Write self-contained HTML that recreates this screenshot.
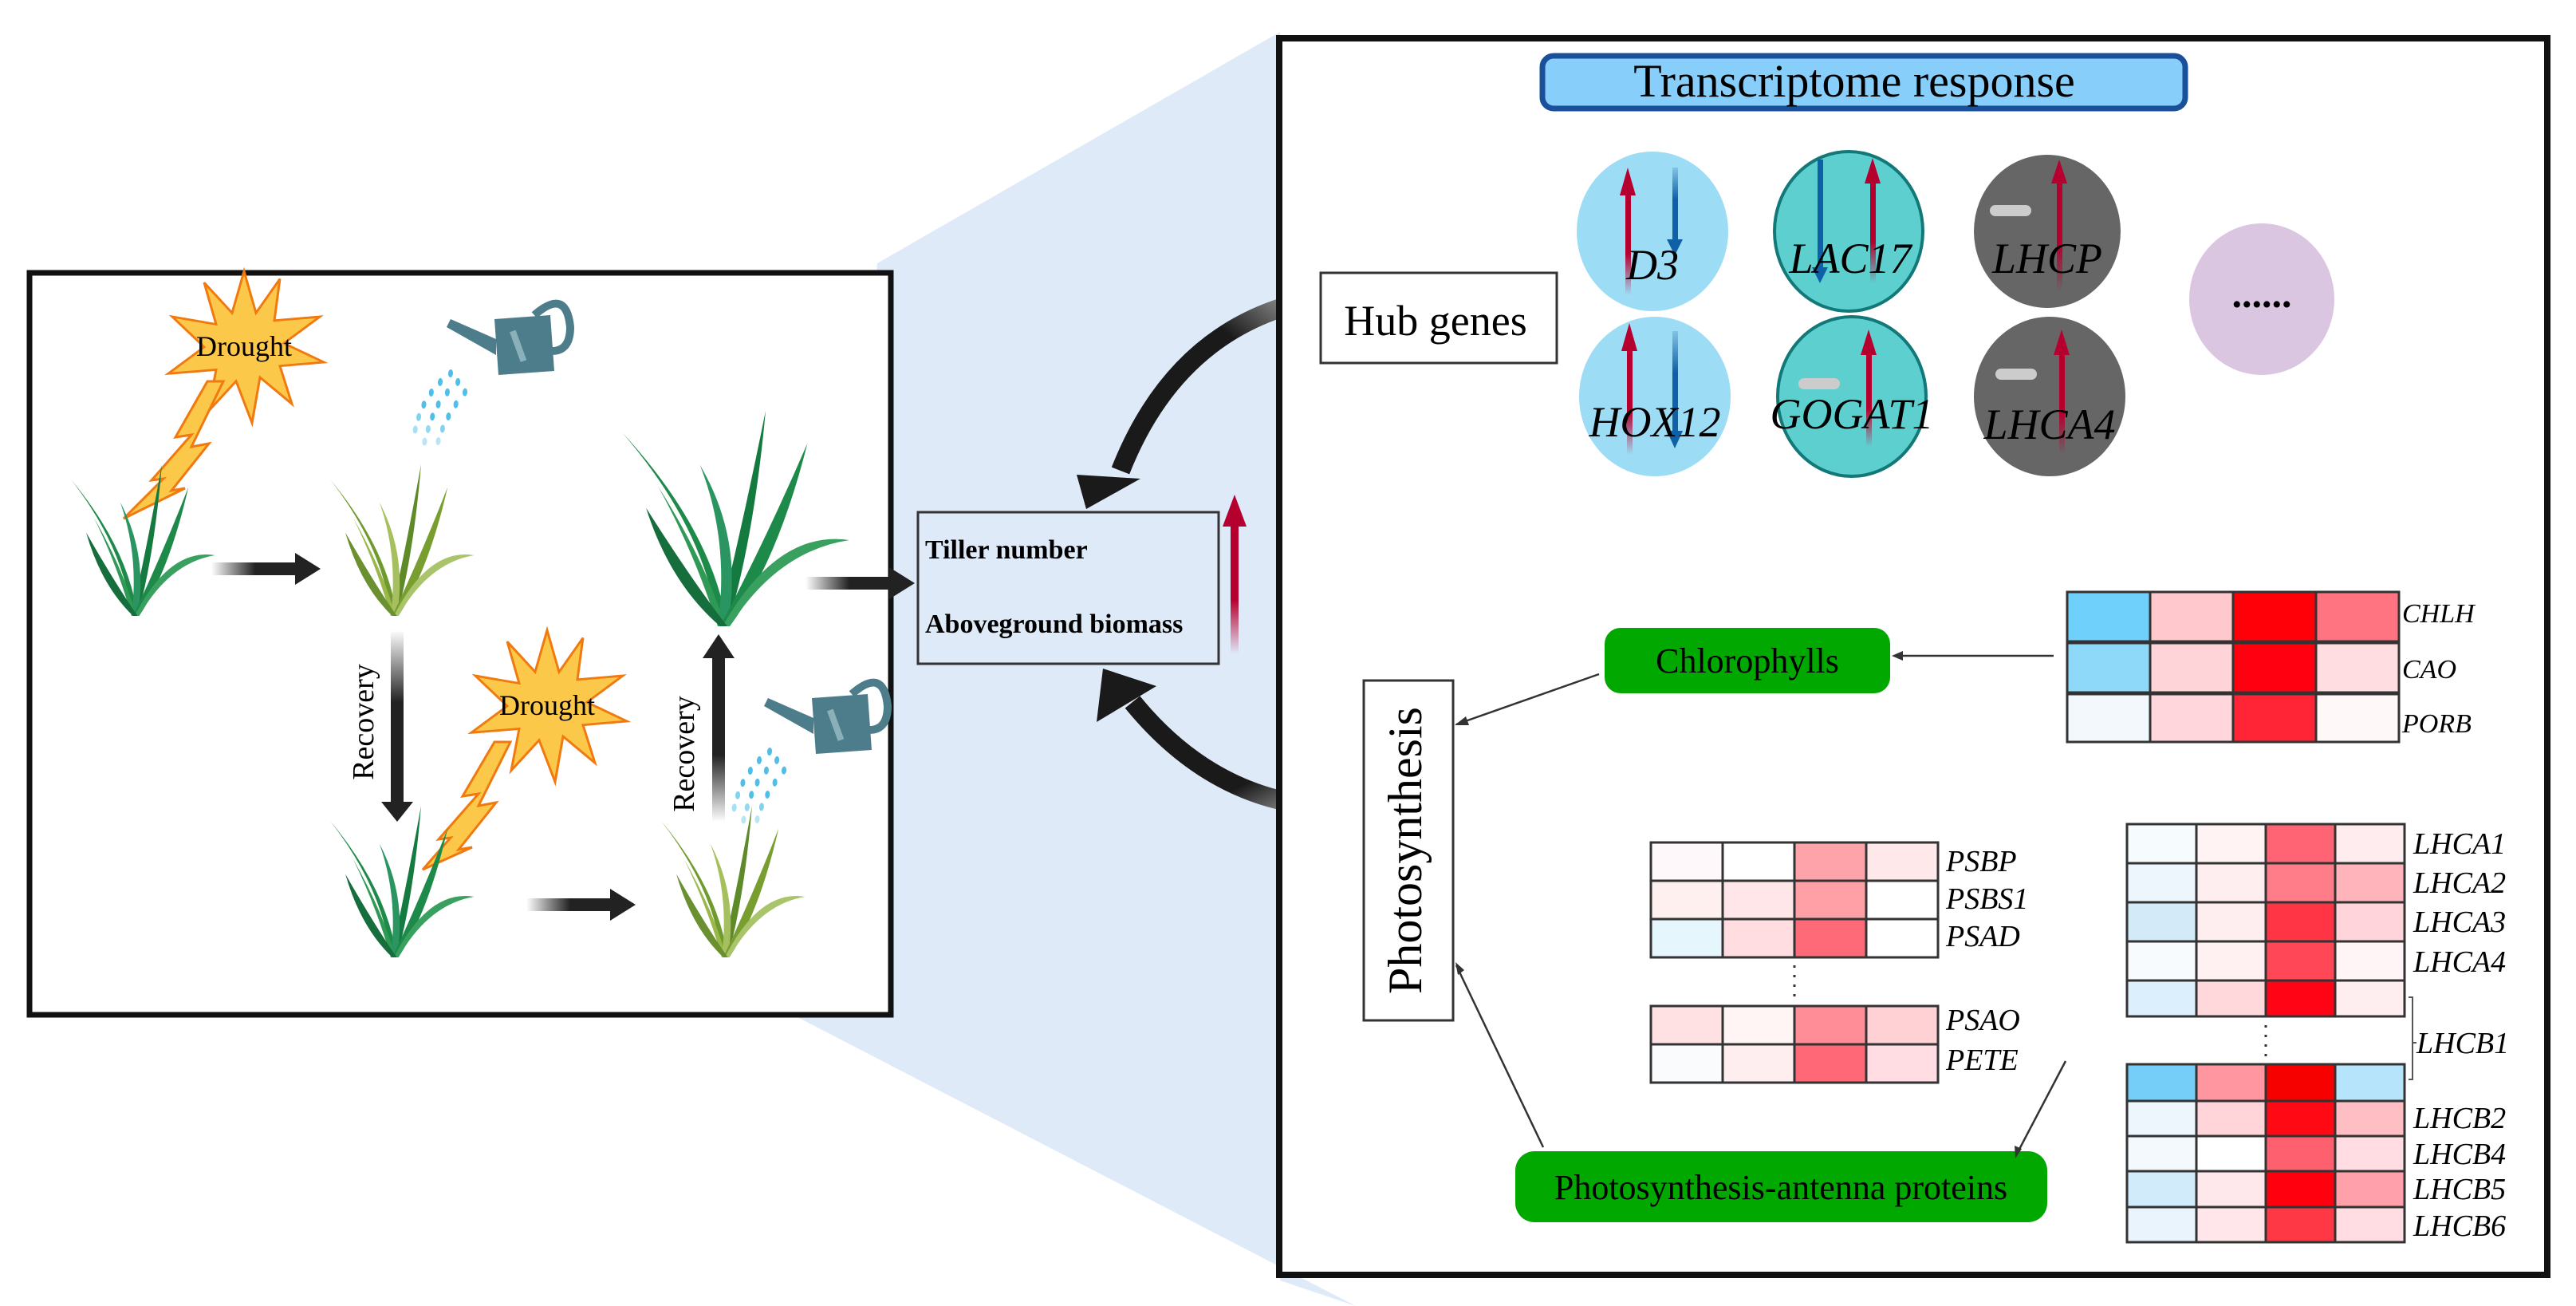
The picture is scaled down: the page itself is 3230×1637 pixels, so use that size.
<!DOCTYPE html>
<html><head><meta charset="utf-8"><style>
html,body{margin:0;padding:0;background:#fff;}
svg{display:block;}
text{font-family:"Liberation Serif",serif;}
.it{font-style:italic;}
</style></head><body>
<svg width="3230" height="1637" viewBox="0 0 3230 1637" xmlns="http://www.w3.org/2000/svg">
<defs>
<linearGradient id="gr" x1="0" y1="1" x2="0" y2="0"><stop offset="0" stop-color="#b5002f" stop-opacity="0"/><stop offset="0.4" stop-color="#b5002f"/><stop offset="1" stop-color="#b5002f"/></linearGradient>
<linearGradient id="gb" x1="0" y1="0" x2="0" y2="1"><stop offset="0" stop-color="#1060a8" stop-opacity="0.2"/><stop offset="0.4" stop-color="#1060a8"/><stop offset="1" stop-color="#1060a8"/></linearGradient>
<linearGradient id="ah" x1="0" y1="0" x2="1" y2="0"><stop offset="0" stop-color="#222" stop-opacity="0"/><stop offset="0.5" stop-color="#222"/><stop offset="1" stop-color="#222"/></linearGradient>
<linearGradient id="av" x1="0" y1="0" x2="0" y2="1"><stop offset="0" stop-color="#222" stop-opacity="0"/><stop offset="0.4" stop-color="#222"/><stop offset="1" stop-color="#222"/></linearGradient>
<linearGradient id="av2" x1="0" y1="1" x2="0" y2="0"><stop offset="0" stop-color="#222" stop-opacity="0"/><stop offset="0.4" stop-color="#222"/><stop offset="1" stop-color="#222"/></linearGradient>
<linearGradient id="bt" x1="1" y1="0" x2="0" y2="1"><stop offset="0" stop-color="#bbb"/><stop offset="0.35" stop-color="#1a1a1a"/><stop offset="1" stop-color="#1a1a1a"/></linearGradient>
<linearGradient id="bb" x1="1" y1="1" x2="0" y2="0"><stop offset="0" stop-color="#bbb"/><stop offset="0.35" stop-color="#1a1a1a"/><stop offset="1" stop-color="#1a1a1a"/></linearGradient>
<g id="plantD">
<path d="M0,0 Q-10,-90 -80,-180 Q-5,-90 8,0Z" fill="#1e8a4a"/>
<path d="M0,0 Q-20,-70 -50,-130 Q-10,-60 6,0Z" fill="#2f9a55"/>
<path d="M0,0 Q20,-90 40,-200 Q30,-80 8,0Z" fill="#157a40"/>
<path d="M0,0 Q10,-80 -15,-150 Q22,-80 8,0Z" fill="#2a9560"/>
<path d="M2,0 Q40,-80 75,-170 Q50,-60 10,0Z" fill="#1e8a4a"/>
<path d="M4,0 Q50,-90 110,-80 Q50,-70 10,0Z" fill="#3aa060"/>
<path d="M2,0 Q-40,-40 -60,-110 Q-20,-40 8,0Z" fill="#166e3c"/>
</g>
<g id="plantY">
<path d="M0,0 Q-10,-90 -80,-180 Q-5,-90 8,0Z" fill="#6f9a2e"/>
<path d="M0,0 Q-20,-70 -50,-130 Q-10,-60 6,0Z" fill="#9ab84a"/>
<path d="M0,0 Q20,-90 40,-200 Q30,-80 8,0Z" fill="#5f8a2a"/>
<path d="M0,0 Q10,-80 -15,-150 Q22,-80 8,0Z" fill="#a6c060"/>
<path d="M2,0 Q40,-80 75,-170 Q50,-60 10,0Z" fill="#789e30"/>
<path d="M4,0 Q50,-90 110,-80 Q50,-70 10,0Z" fill="#a9c46a"/>
<path d="M2,0 Q-40,-40 -60,-110 Q-20,-40 8,0Z" fill="#6a9030"/>
</g>
<g id="star">
<polygon points="0,-100 15,-45 45,-90 38,-35 95,-40 50,-5 100,20 45,25 60,75 20,40 10,100 -10,45 -45,85 -35,30 -95,35 -50,0 -90,-40 -35,-30 -50,-85 -15,-45" fill="#fcc84a" stroke="#f07a10" stroke-width="3"/>
</g>
<g id="can">
<path d="M-40,-30 L30,-35 L35,35 L-35,40Z" fill="#4d7d8a"/>
<path d="M10,-35 Q50,-70 55,-20 Q55,10 32,10" fill="none" stroke="#4d7d8a" stroke-width="10"/>
<path d="M-38,-5 L-95,-30 L-100,-20 L-38,15Z" fill="#4d7d8a"/>
<rect x="-15" y="-20" width="8" height="40" fill="#8ab0ba" transform="rotate(-20)"/>
</g>
<g id="drops" fill="#4fbfe8">
<ellipse cx="0" cy="0" rx="3" ry="5"/><ellipse cx="-12" cy="12" rx="3" ry="5"/><ellipse cx="-22" cy="26" rx="3" ry="5"/><ellipse cx="-30" cy="42" rx="3" ry="5"/><ellipse cx="-35" cy="58" rx="3" ry="5" opacity=".7"/><ellipse cx="-38" cy="74" rx="3" ry="5" opacity=".5"/>
<ellipse cx="10" cy="10" rx="3" ry="5"/><ellipse cx="-2" cy="24" rx="3" ry="5"/><ellipse cx="-12" cy="40" rx="3" ry="5"/><ellipse cx="-18" cy="56" rx="3" ry="5"/><ellipse cx="-22" cy="72" rx="3" ry="5" opacity=".6"/><ellipse cx="-25" cy="88" rx="3" ry="5" opacity=".4"/>
<ellipse cx="20" cy="22" rx="3" ry="5"/><ellipse cx="10" cy="38" rx="3" ry="5"/><ellipse cx="2" cy="54" rx="3" ry="5"/><ellipse cx="-4" cy="70" rx="3" ry="5" opacity=".7"/><ellipse cx="-8" cy="86" rx="3" ry="5" opacity=".4"/>
</g>
</defs>

<!-- blue fan -->
<polygon points="1100,330 1605,40 1605,1605 1700,1637 1000,1275" fill="#dfeaf9"/>

<!-- left panel -->
<rect x="37" y="342" width="1080" height="930" fill="#fff" stroke="#111" stroke-width="7"/>
<use href="#star" transform="translate(306,435) scale(1.0,0.95)"/>
<text x="306" y="446" font-size="36" text-anchor="middle">Drought</text>
<polygon points="280,478 240,560 262,556 215,615 232,612 155,650 205,600 190,602 240,545 220,548 260,478" fill="#fcc84a" stroke="#f07a10" stroke-width="3"/>
<use href="#star" transform="translate(686,885) scale(1.0,0.95)"/>
<text x="686" y="896" font-size="36" text-anchor="middle">Drought</text>
<polygon points="640,930 600,1010 622,1006 575,1065 592,1062 530,1090 565,1050 550,1052 600,995 580,998 620,930" fill="#fcc84a" stroke="#f07a10" stroke-width="3"/>
<use href="#can" transform="translate(660,430)"/>
<use href="#drops" transform="translate(565,468) rotate(5)"/>
<use href="#can" transform="translate(1058,905)"/>
<use href="#drops" transform="translate(965,942) rotate(5)"/>

<use href="#plantD" transform="translate(165,772) scale(0.95,0.95)"/>
<use href="#plantY" transform="translate(490,772) scale(0.95,0.95)"/>
<use href="#plantD" transform="translate(900,785) scale(1.5,1.35)"/>
<use href="#plantD" transform="translate(490,1200) scale(0.95,0.95)"/>
<use href="#plantY" transform="translate(905,1200) scale(0.95,0.95)"/>

<!-- left arrows -->
<rect x="265" y="705" width="110" height="16" fill="url(#ah)"/><polygon points="370,693 402,713 370,733" fill="#222"/>
<rect x="660" y="1126" width="110" height="16" fill="url(#ah)"/><polygon points="765,1114 797,1134 765,1154" fill="#222"/>
<rect x="1010" y="723" width="110" height="16" fill="url(#ah)"/><polygon points="1115,711 1147,731 1115,751" fill="#222"/>
<rect x="490" y="790" width="16" height="225" fill="url(#av)"/><polygon points="478,1005 498,1030 518,1005" fill="#222"/>
<rect x="893" y="820" width="16" height="210" fill="url(#av2)"/><polygon points="881,825 901,795 921,825" fill="#222"/>
<text transform="translate(468,905) rotate(-90)" font-size="38" text-anchor="middle">Recovery</text>
<text transform="translate(870,945) rotate(-90)" font-size="38" text-anchor="middle">Recovery</text>

<!-- tiller box -->
<rect x="1151" y="642" width="377" height="190" fill="#dfeaf9" stroke="#333" stroke-width="3"/>
<text x="1160" y="700" font-size="34" font-weight="bold">Tiller number</text>
<text x="1160" y="793" font-size="34" font-weight="bold">Aboveground biomass</text>
<rect x="1543" y="650" width="10" height="170" fill="url(#gr)"/><polygon points="1533,660 1548,620 1563,660" fill="#b5002f"/>

<!-- big curved arrows -->
<path d="M1665,372 Q1480,400 1405,590" fill="none" stroke="url(#bt)" stroke-width="24"/>
<polygon points="1350,595 1430,600 1362,638" fill="#1a1a1a"/>
<path d="M1690,1012 Q1530,1015 1420,880" fill="none" stroke="url(#bb)" stroke-width="24"/>
<polygon points="1383,838 1375,905 1450,860" fill="#1a1a1a"/>

<!-- right panel -->
<rect x="1604" y="48" width="1590" height="1550" fill="#fff" stroke="#111" stroke-width="8"/>
<rect x="1934" y="70" width="806" height="66" rx="14" fill="#87cefa" stroke="#1a4f9a" stroke-width="7"/>
<text x="2325" y="121" font-size="58" text-anchor="middle">Transcriptome response</text>

<rect x="1656" y="342" width="296" height="113" fill="#fff" stroke="#333" stroke-width="3"/>
<text x="1800" y="420" font-size="54" text-anchor="middle">Hub genes</text>

<!-- gene ellipses -->
<ellipse cx="2072" cy="290" rx="95" ry="100" fill="#9ddcf5"/>
<ellipse cx="2318" cy="290" rx="93" ry="100" fill="#5ecfcf" stroke="#127878" stroke-width="4"/>
<ellipse cx="2567" cy="290" rx="92" ry="96" fill="#666"/>
<ellipse cx="2075" cy="497" rx="95" ry="100" fill="#9ddcf5"/>
<ellipse cx="2322" cy="497" rx="93" ry="100" fill="#5ecfcf" stroke="#127878" stroke-width="4"/>
<ellipse cx="2570" cy="497" rx="95" ry="100" fill="#666"/>
<ellipse cx="2836" cy="375" rx="91" ry="95" fill="#dbc6e2"/>
<text x="2836" y="385" font-size="50" text-anchor="middle" font-weight="bold">......</text>

<rect x="2038" y="240" width="7" height="130" fill="url(#gr)"/><polygon points="2031,245 2041,210 2051,245" fill="#b5002f"/>
<rect x="2097" y="210" width="7" height="100" fill="url(#gb)"/><polygon points="2090,300 2100,320 2110,300" fill="#1060a8"/>
<rect x="2279" y="200" width="7" height="140" fill="#1060a8"/><polygon points="2272,335 2282,355 2292,335" fill="#1060a8"/>
<rect x="2345" y="225" width="7" height="130" fill="url(#gr)"/><polygon points="2338,230 2348,198 2358,230" fill="#b5002f"/>
<rect x="2495" y="257" width="52" height="14" rx="7" fill="#ccc"/>
<rect x="2579" y="225" width="7" height="140" fill="url(#gr)"/><polygon points="2572,230 2582,200 2592,230" fill="#b5002f"/>
<rect x="2040" y="435" width="7" height="135" fill="url(#gr)"/><polygon points="2033,440 2043,405 2053,440" fill="#b5002f"/>
<rect x="2097" y="415" width="7" height="130" fill="url(#gb)"/><polygon points="2090,540 2100,562 2110,540" fill="#1060a8"/>
<rect x="2255" y="474" width="52" height="14" rx="7" fill="#ccc"/>
<rect x="2340" y="440" width="7" height="120" fill="url(#gr)"/><polygon points="2333,445 2343,413 2353,445" fill="#b5002f"/>
<rect x="2502" y="462" width="52" height="14" rx="7" fill="#ccc"/>
<rect x="2582" y="440" width="7" height="130" fill="url(#gr)"/><polygon points="2575,445 2585,413 2595,445" fill="#b5002f"/>

<g class="it" font-size="54" text-anchor="middle">
<text x="2072" y="350">D3</text>
<text x="2320" y="342">LAC17</text>
<text x="2567" y="342">LHCP</text>
<text x="2075" y="547">HOX12</text>
<text x="2322" y="537">GOGAT1</text>
<text x="2570" y="550">LHCA4</text>
</g>

<!-- photosynthesis -->
<rect x="1710" y="853" width="112" height="426" fill="#fff" stroke="#333" stroke-width="3"/>
<text transform="translate(1782,1066) rotate(-90)" font-size="60" text-anchor="middle">Photosynthesis</text>
<rect x="2012" y="787" width="358" height="82" rx="20" fill="#00a800"/>
<text x="2191" y="843" font-size="44" text-anchor="middle">Chlorophylls</text>
<rect x="1900" y="1443" width="667" height="89" rx="24" fill="#00a800"/>
<text x="2233" y="1503" font-size="44" text-anchor="middle">Photosynthesis-antenna proteins</text>

<!-- connectors -->
<g stroke="#333" stroke-width="2.5" fill="none">
<line x1="2575" y1="822" x2="2375" y2="822"/>
<line x1="2005" y1="845" x2="1826" y2="908"/>
<line x1="1935" y1="1438" x2="1826" y2="1210"/>
<line x1="2590" y1="1330" x2="2528" y2="1448"/>
</g>
<polygon points="2372,822 2386,816 2386,828" fill="#333"/>
<polygon points="1824,909 1838,898 1842,909" fill="#333"/>
<polygon points="1825,1206 1828,1222 1836,1216" fill="#333"/>
<polygon points="2527,1452 2526,1436 2535,1440" fill="#333"/>

<!-- CHLH heatmap -->
<g stroke="#333" stroke-width="3">
<rect x="2592" y="742" width="104" height="62" fill="#6fd0fb"/><rect x="2696" y="742" width="104" height="62" fill="#ffc8cc"/><rect x="2800" y="742" width="104" height="62" fill="#ff0008"/><rect x="2904" y="742" width="104" height="62" fill="#ff7480"/>
<rect x="2592" y="806" width="104" height="62" fill="#8ed8f9"/><rect x="2696" y="806" width="104" height="62" fill="#ffd4d8"/><rect x="2800" y="806" width="104" height="62" fill="#ff0010"/><rect x="2904" y="806" width="104" height="62" fill="#ffdde0"/>
<rect x="2592" y="870" width="104" height="60" fill="#f3f8fd"/><rect x="2696" y="870" width="104" height="60" fill="#ffd6db"/><rect x="2800" y="870" width="104" height="60" fill="#ff2436"/><rect x="2904" y="870" width="104" height="60" fill="#fff8f8"/>
</g>
<g class="it" font-size="34">
<text x="3012" y="780">CHLH</text><text x="3012" y="850">CAO</text><text x="3012" y="918">PORB</text>
</g>

<!-- PS heatmap -->
<g stroke="#333" stroke-width="3">
<rect x="2070" y="1056" width="90" height="48" fill="#fff8fa"/><rect x="2160" y="1056" width="90" height="48" fill="#fff"/><rect x="2250" y="1056" width="90" height="48" fill="#ffa3ab"/><rect x="2340" y="1056" width="90" height="48" fill="#ffe8ea"/>
<rect x="2070" y="1104" width="90" height="48" fill="#fff0f0"/><rect x="2160" y="1104" width="90" height="48" fill="#ffe6e8"/><rect x="2250" y="1104" width="90" height="48" fill="#ff9fa6"/><rect x="2340" y="1104" width="90" height="48" fill="#fff"/>
<rect x="2070" y="1152" width="90" height="48" fill="#e6f6fd"/><rect x="2160" y="1152" width="90" height="48" fill="#ffdde1"/><rect x="2250" y="1152" width="90" height="48" fill="#ff6a78"/><rect x="2340" y="1152" width="90" height="48" fill="#fff"/>
<rect x="2070" y="1261" width="90" height="48" fill="#ffe0e3"/><rect x="2160" y="1261" width="90" height="48" fill="#fff5f5"/><rect x="2250" y="1261" width="90" height="48" fill="#ff8d98"/><rect x="2340" y="1261" width="90" height="48" fill="#ffd0d4"/>
<rect x="2070" y="1309" width="90" height="48" fill="#f9fbfc"/><rect x="2160" y="1309" width="90" height="48" fill="#ffeef0"/><rect x="2250" y="1309" width="90" height="48" fill="#ff6876"/><rect x="2340" y="1309" width="90" height="48" fill="#ffdde3"/>
</g>
<line x1="2250" y1="1210" x2="2250" y2="1255" stroke="#333" stroke-width="3" stroke-dasharray="3,9"/>
<g class="it" font-size="38">
<text x="2440" y="1092">PSBP</text><text x="2440" y="1139">PSBS1</text><text x="2440" y="1186">PSAD</text><text x="2440" y="1291">PSAO</text><text x="2440" y="1341">PETE</text>
</g>

<!-- LHC heatmap -->
<g stroke="#333" stroke-width="3">
<rect x="2667" y="1033" width="87" height="49" fill="#f6fbfe"/><rect x="2754" y="1033" width="87" height="49" fill="#fff3f4"/><rect x="2841" y="1033" width="87" height="49" fill="#ff6474"/><rect x="2928" y="1033" width="87" height="49" fill="#ffecee"/>
<rect x="2667" y="1082" width="87" height="49" fill="#edf5fd"/><rect x="2754" y="1082" width="87" height="49" fill="#ffeef0"/><rect x="2841" y="1082" width="87" height="49" fill="#ff7c89"/><rect x="2928" y="1082" width="87" height="49" fill="#ffb3bb"/>
<rect x="2667" y="1131" width="87" height="49" fill="#d3ebf8"/><rect x="2754" y="1131" width="87" height="49" fill="#ffeef0"/><rect x="2841" y="1131" width="87" height="49" fill="#ff3445"/><rect x="2928" y="1131" width="87" height="49" fill="#ffd4da"/>
<rect x="2667" y="1180" width="87" height="49" fill="#f8fbfe"/><rect x="2754" y="1180" width="87" height="49" fill="#fff0f2"/><rect x="2841" y="1180" width="87" height="49" fill="#ff4758"/><rect x="2928" y="1180" width="87" height="49" fill="#fff5f6"/>
<rect x="2667" y="1229" width="87" height="45" fill="#dceffc"/><rect x="2754" y="1229" width="87" height="45" fill="#ffd8dc"/><rect x="2841" y="1229" width="87" height="45" fill="#ff0414"/><rect x="2928" y="1229" width="87" height="45" fill="#ffeef0"/>
<rect x="2667" y="1334" width="87" height="46" fill="#75cef8"/><rect x="2754" y="1334" width="87" height="46" fill="#ff96a0"/><rect x="2841" y="1334" width="87" height="46" fill="#f70000"/><rect x="2928" y="1334" width="87" height="46" fill="#b5e4fb"/>
<rect x="2667" y="1380" width="87" height="44" fill="#eef6fd"/><rect x="2754" y="1380" width="87" height="44" fill="#ffd5da"/><rect x="2841" y="1380" width="87" height="44" fill="#ff0a14"/><rect x="2928" y="1380" width="87" height="44" fill="#ffbdc4"/>
<rect x="2667" y="1424" width="87" height="44" fill="#f4f9fd"/><rect x="2754" y="1424" width="87" height="44" fill="#fff"/><rect x="2841" y="1424" width="87" height="44" fill="#ff6070"/><rect x="2928" y="1424" width="87" height="44" fill="#ffdde2"/>
<rect x="2667" y="1468" width="87" height="45" fill="#d2ebfa"/><rect x="2754" y="1468" width="87" height="45" fill="#ffe8eb"/><rect x="2841" y="1468" width="87" height="45" fill="#ff000e"/><rect x="2928" y="1468" width="87" height="45" fill="#ffa0ab"/>
<rect x="2667" y="1513" width="87" height="44" fill="#eaf4fd"/><rect x="2754" y="1513" width="87" height="44" fill="#ffe6ea"/><rect x="2841" y="1513" width="87" height="44" fill="#ff3846"/><rect x="2928" y="1513" width="87" height="44" fill="#ffdde2"/>
</g>
<line x1="2841" y1="1285" x2="2841" y2="1330" stroke="#333" stroke-width="3" stroke-dasharray="3,9"/>
<path d="M3020,1250 L3025,1250 L3025,1353 L3020,1353 M3025,1307 L3030,1307" fill="none" stroke="#555" stroke-width="2"/>
<g class="it" font-size="38">
<text x="3026" y="1070">LHCA1</text><text x="3026" y="1119">LHCA2</text><text x="3026" y="1168">LHCA3</text><text x="3026" y="1218">LHCA4</text>
<text x="3030" y="1320">LHCB1</text>
<text x="3026" y="1414">LHCB2</text><text x="3026" y="1459">LHCB4</text><text x="3026" y="1503">LHCB5</text><text x="3026" y="1549">LHCB6</text>
</g>
</svg>
</body></html>
